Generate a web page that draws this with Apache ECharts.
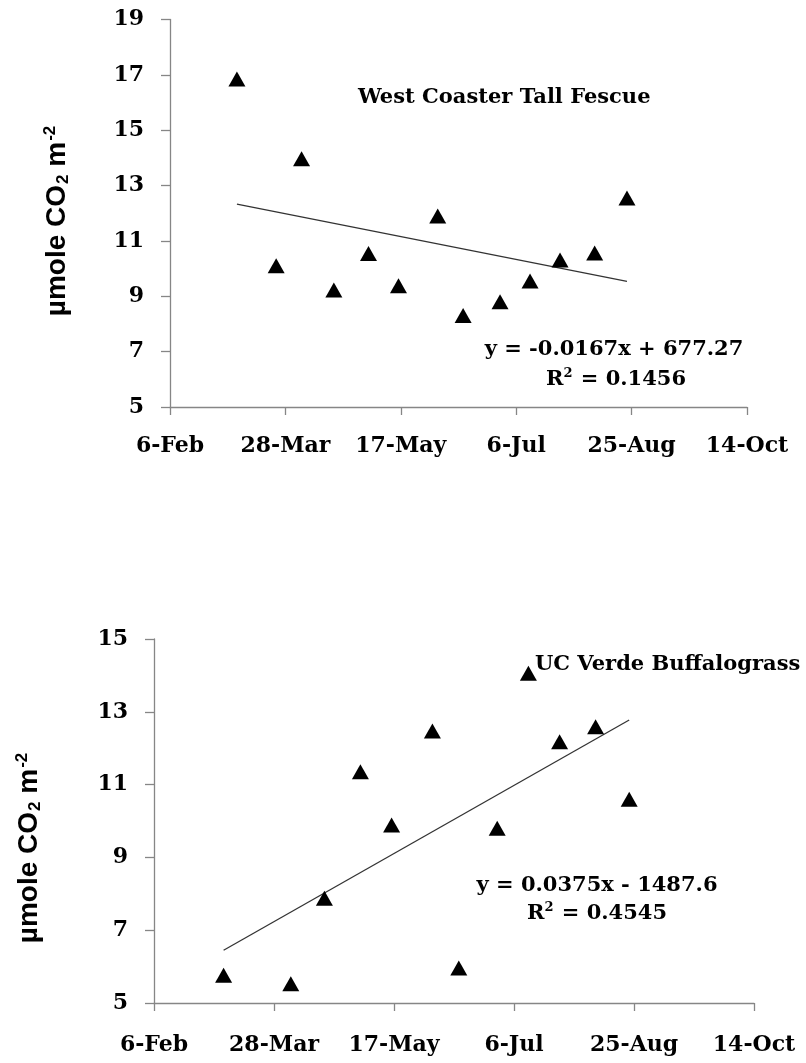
<!DOCTYPE html>
<html>
<head>
<meta charset="utf-8">
<script src="https://cdn.jsdelivr.net/npm/echarts@6/dist/echarts.min.js"></script>
<style>
    html, body { margin: 0; padding: 0; background: #fff; }
    #chart { width: 806px; height: 1063px; }
</style>
</head>
<body>
<div id="chart"></div>
<script>
// x values are days after 6-Feb
const tickLabels = ['6-Feb', '28-Mar', '17-May', '6-Jul', '25-Aug', '14-Oct'];

const fescueDays = [29, 46, 57, 71, 86, 99, 116, 127, 143, 156, 169, 184, 198];
const fescueFlux = [16.85, 10.1, 13.97, 9.23, 10.55, 9.38, 11.9, 8.31, 8.8, 9.55, 10.31, 10.56, 12.55];

const buffaloDays = [29, 57, 71, 86, 99, 116, 127, 143, 156, 169, 184, 198];
const buffaloFlux = [5.76, 5.53, 7.88, 11.35, 9.89, 12.47, 5.96, 9.8, 14.06, 12.18, 12.59, 10.6];

const serif = 'DejaVu Serif';
const sans = 'Liberation Sans';

// least squares trend from first to last point
function trend(xs, ys) {
    let n = xs.length;
    let mx = xs.reduce((a, b) => a + b, 0) / n;
    let my = ys.reduce((a, b) => a + b, 0) / n;
    let sxy = 0, sxx = 0;
    xs.forEach((x, i) => {
        sxy += (x - mx) * (ys[i] - my);
        sxx += (x - mx) * (x - mx);
    });
    let slope = sxy / sxx;
    let x0 = Math.min(...xs), x1 = Math.max(...xs);
    return [[x0, my + slope * (x0 - mx)], [x1, my + slope * (x1 - mx)]];
}

function xAxis(gridIndex) {
    return {
        type: 'value',
        gridIndex: gridIndex,
        min: 0,
        max: 250,
        interval: 50,
        axisLine: { lineStyle: { color: '#868686', width: 1.3 } },
        axisTick: { length: 8, lineStyle: { color: '#868686', width: 1.3 } },
        splitLine: { show: false },
        axisLabel: {
            margin: gridIndex === 0 ? 28 : 31,
            color: '#000',
            fontFamily: serif,
            fontWeight: 'bold',
            fontSize: 22,
            formatter: v => tickLabels[v / 50]
        }
    };
}

function yAxis(gridIndex, max) {
    return {
        type: 'value',
        gridIndex: gridIndex,
        min: 5,
        max: max,
        interval: 2,
        axisLine: { show: true, lineStyle: { color: '#868686', width: 1.3 } },
        axisTick: { show: true, length: 9, lineStyle: { color: '#868686', width: 1.3 } },
        splitLine: { show: false },
        axisLabel: {
            margin: 26,
            color: '#000',
            fontFamily: serif,
            fontWeight: 'bold',
            fontSize: 22
        }
    };
}

function points(days, flux, index) {
    return {
        type: 'scatter',
        xAxisIndex: index,
        yAxisIndex: index,
        data: days.map((d, i) => [d, flux[i]]),
        symbol: 'triangle',
        symbolSize: [17, 15],
        itemStyle: { color: '#000', opacity: 1 },
        z: 3
    };
}

function trendLine(days, flux, index) {
    return {
        type: 'line',
        xAxisIndex: index,
        yAxisIndex: index,
        data: trend(days, flux),
        showSymbol: false,
        symbol: 'none',
        lineStyle: { color: '#333', width: 1.3 },
        z: 2
    };
}

const titleStyle = { fontFamily: serif, fontWeight: 'bold', fontSize: 21, fill: '#000' };
const rich = {
    t: { fontFamily: serif, fontWeight: 'bold', fontSize: 21, color: '#000', lineHeight: 26 },
    sup: { fontFamily: serif, fontWeight: 'bold', fontSize: 13, color: '#000', verticalAlign: 'top', lineHeight: 26, padding: [0, 1, 10, 0] }
};
const nameRich = {
    a: { fontFamily: sans, fontWeight: 'bold', fontSize: 28, color: '#000', lineHeight: 34 },
    sub: { fontFamily: sans, fontWeight: 'bold', fontSize: 17, color: '#000', lineHeight: 34, padding: [13, 0, 0, 1] },
    sup: { fontFamily: sans, fontWeight: 'bold', fontSize: 17, color: '#000', lineHeight: 34, padding: [0, 0, 13, 1] }
};
const yName = '{a|µmole CO}{sub|2}{a| m}{sup|-2}';

function text(x, y, str, align) {
    return {
        type: 'text',
        x: x,
        y: y,
        style: { ...titleStyle, text: str, textAlign: align || 'left', textVerticalAlign: 'middle' }
    };
}

function richText(x, y, str) {
    return {
        type: 'text',
        x: x,
        y: y,
        style: { text: str, rich: rich, textAlign: 'center', textVerticalAlign: 'middle' }
    };
}

function nameText(x, y) {
    return {
        type: 'text',
        x: x,
        y: y,
        rotation: Math.PI / 2,
        style: { text: yName, rich: nameRich, textAlign: 'center', textVerticalAlign: 'middle' }
    };
}

const chart = echarts.init(document.getElementById('chart'), null, { renderer: 'canvas' });
chart.setOption({
    backgroundColor: '#fff',
    animation: false,
    grid: [
        { left: 170, top: 19.5, width: 577, height: 387.5 },
        { left: 154, top: 639, width: 600, height: 364 }
    ],
    xAxis: [xAxis(0), xAxis(1)],
    yAxis: [yAxis(0, 19), yAxis(1, 15)],
    series: [
        trendLine(fescueDays, fescueFlux, 0),
        points(fescueDays, fescueFlux, 0),
        trendLine(buffaloDays, buffaloFlux, 1),
        points(buffaloDays, buffaloFlux, 1)
    ],
    graphic: [
        text(358, 98, 'West Coaster Tall Fescue'),
        text(614, 350, 'y = -0.0167x + 677.27', 'center'),
        richText(616, 380, '{t|R}{sup|2}{t| = 0.1456}'),
        text(535, 665, 'UC Verde Buffalograss'),
        text(597, 886, 'y = 0.0375x - 1487.6', 'center'),
        richText(597, 914, '{t|R}{sup|2}{t| = 0.4545}'),
        nameText(57, 221),
        nameText(29, 848)
    ]
});
</script>
</body>
</html>
